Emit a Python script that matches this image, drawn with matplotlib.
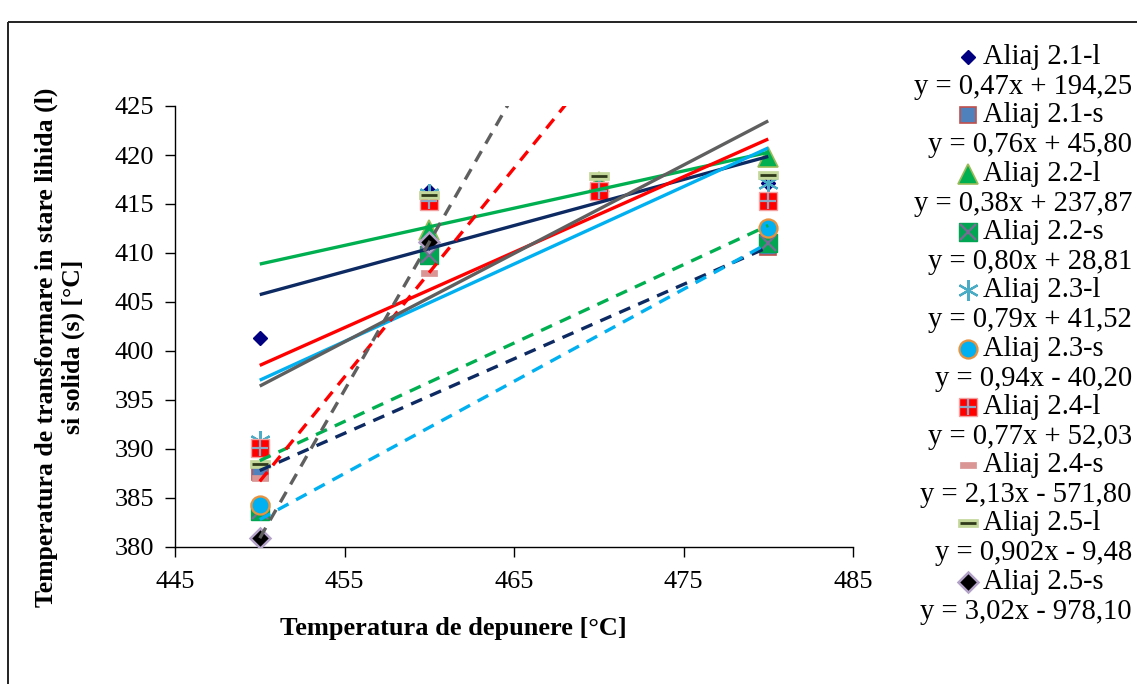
import numpy as np
import matplotlib
matplotlib.use("Agg")
import matplotlib.pyplot as plt
from matplotlib.patches import Rectangle

# Deposition temperatures [°C]
temperatures = [450, 460, 470, 480]

series_names = ["Aliaj 2.1-l", "Aliaj 2.1-s", "Aliaj 2.2-l", "Aliaj 2.2-s",
                "Aliaj 2.3-l", "Aliaj 2.3-s", "Aliaj 2.4-l", "Aliaj 2.4-s",
                "Aliaj 2.5-l", "Aliaj 2.5-s"]

# Transformation temperatures (liquid / solid) per alloy; NaN = not measured / outside range
aliaj_21_l = [401.3, 416.3, 416.7, 417.1]
aliaj_21_s = [387.7, np.nan, np.nan, 410.6]
aliaj_22_l = [np.nan, 412.3, 417.2, 419.8]
aliaj_22_s = [383.7, 409.8, np.nan, 411.0]
aliaj_23_l = [390.8, 416.0, 416.4, 417.1]
aliaj_23_s = [384.3, np.nan, np.nan, 412.6]
aliaj_24_l = [390.1, 415.3, 416.3, 415.3]
aliaj_24_s = [387.0, 408.0, np.nan, np.nan]
aliaj_25_l = [388.5, 415.9, 417.9, 418.0]
aliaj_25_s = [380.9, 411.1, np.nan, np.nan]

# Linear trend lines  y = m*x + b
slopes = [0.47, 0.76, 0.38, 0.80, 0.79, 0.94, 0.77, 2.13, 0.902, 3.02]
intercepts = [194.25, 45.80, 237.87, 28.81, 41.52, -40.20, 52.03, -571.80, -9.48, -978.10]

x_ticks = [445, 455, 465, 475, 485]
y_ticks = [380, 385, 390, 395, 400, 405, 410, 415, 420, 425]

values = [aliaj_21_l, aliaj_21_s, aliaj_22_l, aliaj_22_s, aliaj_23_l,
          aliaj_23_s, aliaj_24_l, aliaj_24_s, aliaj_25_l, aliaj_25_s]

NAVY = "#0D2A63"
GREEN = "#00B050"
SKY = "#00B0F0"
RED = "#FF0000"
GRAY = "#5F5F5F"
line_styles = [(NAVY, "-"), (NAVY, "--"), (GREEN, "-"), (GREEN, "--"),
               (SKY, "-"), (SKY, "--"), (RED, "-"), (RED, "--"),
               (GRAY, "-"), (GRAY, "--")]

dash_rect = [(-1, -0.38), (1, -0.38), (1, 0.38), (-1, 0.38), (-1, -0.38)]

# Each marker is a list of layers (drawn in order)
marker_layers = [
    [dict(marker="D", ms=7, mfc="#000080", mec="#000080", mew=1)],
    [dict(marker="s", ms=12, mfc="#4F81BD", mec="#C0504D", mew=1.2)],
    [dict(marker="^", ms=15, mfc="#00B050", mec="#9BBB59", mew=1.2)],
    [dict(marker="s", ms=13, mfc="#00A651", mec="#00A651", mew=1),
     dict(marker="x", ms=12, mfc="none", mec="#7A6A96", mew=1.6)],
    [dict(marker=(6, 2, 0), ms=15, mfc="none", mec="#4BACC6", mew=1.6)],
    [dict(marker="o", ms=13, mfc="#00B0F0", mec="#E7923F", mew=1.6)],
    [dict(marker="s", ms=13, mfc="#FF0000", mec="#F4A0A0", mew=1),
     dict(marker="+", ms=12, mfc="none", mec="#8FA6C2", mew=1.6)],
    [dict(marker=dash_rect, ms=11, mfc="#D99694", mec="#D99694", mew=0.5)],
    [dict(marker=dash_rect, ms=15, mfc="#C4D79B", mec="#C4D79B", mew=0.5),
     dict(marker="_", ms=12, mfc="none", mec="#2F3A1A", mew=2)],
    [dict(marker="D", ms=10, mfc="#000000", mec="#B3A2C7", mew=1.8)],
]

plt.rcParams["font.family"] = ["Liberation Serif", "DejaVu Serif"]

W, H = 1137, 684
fig = plt.figure(figsize=(W / 100, H / 100), dpi=100)
ax = fig.add_axes([175 / W, 1 - 547 / H, (853 - 175) / W, (547 - 106) / H])

x = np.array(temperatures, dtype=float)
for vals, layers in zip(values, marker_layers):
    y = np.array(vals, dtype=float)
    for lay in layers:
        ax.plot(x, y, linestyle="none", zorder=3, **lay)

x_fit = np.array([temperatures[0], temperatures[-1]], dtype=float)
for m, b, (col, ls) in zip(slopes, intercepts, line_styles):
    ln, = ax.plot(x_fit, m * x_fit + b, color=col, lw=2.4, zorder=4,
                  solid_capstyle="butt")
    if ls == "--":
        ln.set_dashes((3.6, 2.6))

ax.set_xlim(445, 485)
ax.set_ylim(380, 425)
ax.set_xticks(x_ticks)
ax.set_yticks(y_ticks)
for s in ["top", "right"]:
    ax.spines[s].set_visible(False)
for s in ["left", "bottom"]:
    ax.spines[s].set_linewidth(1.0)
    ax.spines[s].set_color("#000000")
ax.tick_params(direction="out", length=7, width=1.0, labelsize=19, color="#000000")
ax.tick_params(axis="y", pad=8)
ax.tick_params(axis="x", pad=10)

# Axis titles
fig.text(453 / W, 1 - 628 / H, "Temperatura de depunere [°C]", fontsize=19,
         fontweight="bold", ha="center", va="center")
fig.text(60 / W, 1 - 347 / H,
         "Temperatura de transformare in stare lihida (l)\nsi solida (s) [°C]",
         fontsize=18.5, fontweight="bold", rotation=90, ha="center", va="center",
         multialignment="center", linespacing=1.2)

# Overlay in pixel coordinates for the legend and the chart frame
ov = fig.add_axes([0, 0, 1, 1], facecolor="none")
ov.set_xlim(0, W)
ov.set_ylim(H, 0)
ov.axis("off")
ov.add_patch(Rectangle((8, 22), W + 10, H + 10, fill=False, ec="#222222", lw=1.4))


def fmt_num(v, min_dec=2):
    s = repr(abs(v))
    dec = max(min_dec, len(s.split(".")[1]) if "." in s else 0)
    return f"{abs(v):.{dec}f}".replace(".", ",")


for i, (name, m, b, layers) in enumerate(zip(series_names, slopes, intercepts, marker_layers)):
    y_name = 57 + 58.3 * i
    y_eq = y_name + 30
    for lay in layers:
        ov.plot([968], [y_name], linestyle="none", **lay)
    ov.text(983, y_name, name, fontsize=20.6, ha="left", va="center")
    sign = "+" if b >= 0 else "-"
    eq = f"y = {fmt_num(m)}x {sign} {fmt_num(b)}"
    ov.text(1132, y_eq, eq, fontsize=20.6, ha="right", va="center")

fig.savefig("out.png", dpi=100)
